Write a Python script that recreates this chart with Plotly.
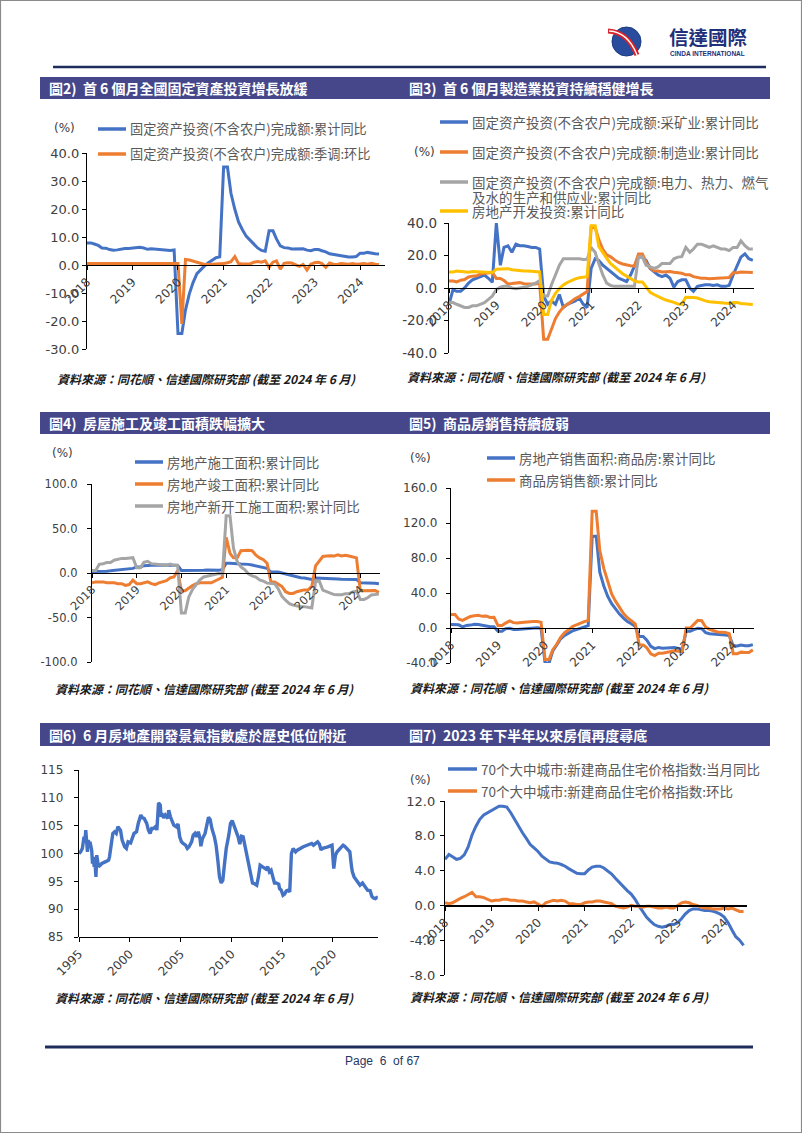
import plotly.graph_objects as go
import pandas as pd

W, H = 802, 1133
def X(px): return px / W
def Y(py): return 1 - py / H

BLUE = '#4472C4'; ORANGE = '#ED7D31'; GRAY = '#A5A5A5'; YELLOW = '#FFC000'
NAVY = '#1F2D5C'; BAR = '#45478A'; TXT = '#595959'; TICK = '#404040'
SC = 'Noto Sans CJK SC'; TC = 'Noto Sans CJK TC'; NUM = 'DejaVu Sans'

# ---------------- data ----------------
months = [d.strftime('%Y-%m-%d') for d in pd.date_range('2018-01-01', '2024-06-01', freq='MS')]
year_ticks = [f'{y}-01-01' for y in range(2018, 2025)]
year_text = [str(y) for y in range(2018, 2025)]

# Chart 2
fai_yoy = [7.9, 7.9, 7.5, 7.0, 6.1, 6.0, 5.5, 5.3, 5.4, 5.7, 5.9, 5.9,
           6.1, 6.1, 6.3, 6.1, 5.6, 5.8, 5.7, 5.5, 5.4, 5.2, 5.2, 5.4,
           -24.5, -24.5, -16.1, -10.3, -6.3, -3.1, -1.6, -0.3, 0.8, 1.8, 2.6, 2.9,
           35.0, 35.0, 25.6, 19.9, 15.4, 12.6, 10.3, 8.9, 7.3, 6.1, 5.2, 4.9,
           12.2, 12.2, 9.3, 6.8, 6.2, 6.1, 5.7, 5.8, 5.9, 5.8, 5.3, 5.1,
           5.5, 5.5, 5.1, 4.7, 4.0, 3.8, 3.4, 3.2, 3.1, 2.9, 2.9, 3.0,
           4.2, 4.2, 4.5, 4.2, 4.0, 3.9]
fai_mom_sa = [0.5, 0.5, 0.5, 0.5, 0.5, 0.5, 0.5, 0.5, 0.5, 0.5, 0.5, 0.5,
              0.5, 0.5, 0.5, 0.5, 0.5, 0.5, 0.5, 0.5, 0.5, 0.5, 0.5, 0.5,
              0.5, -21.0, 2.0, 1.8, 1.4, 1.0, 0.5, 0.2, 0.2, 0.3, 0.3, 0.3,
              0.5, 0.8, 1.2, 3.0, 0.5, 0.4, 0.3, 0.4, 1.0, 1.2, 1.0, 1.5,
              -0.8, 1.0, 1.5, -1.5, 0.6, 0.8, 0.7, 0.0, -0.5, 0.2, -1.8, 0.3,
              0.8, 1.0, 0.5, -0.8, 0.7, 0.3, 0.2, 0.5, 0.4, 0.3, 0.5, 0.3,
              0.4, 0.5, 0.3, 0.6, 0.3, 0.2]

# Chart 3
mining = [-10.0, -1.0, -2.0, -2.0, 0.0, 3.0, 5.0, 6.0, 7.0, 8.0, 6.0, 3.5,
          40.0, 14.0, 25.0, 26.0, 22.0, 27.0, 26.0, 26.0, 25.5, 25.0, 25.0, 24.0,
          -5.0, -10.0, -8.0, -10.0, -4.0, -12.0, -10.0, -9.0, -8.0, -6.0, -10.0, -12.0,
          12.0, 18.0, 17.0, 14.0, 12.0, 10.0, 8.0, 6.0, 5.0, 4.0, 8.0, 13.0,
          19.0, 19.0, 17.0, 12.0, 10.0, 8.0, 7.0, 8.0, 6.0, 0.5, 4.0, 5.0,
          5.0, 0.0, -2.0, 1.0, 1.5, 2.0, 2.0, 1.5, 2.0, 1.0, 1.0, 1.5,
          8.0, 14.0, 19.0, 21.0, 18.0, 17.0]
manufacturing = [4.3, 4.3, 3.8, 4.8, 5.2, 6.8, 7.3, 7.5, 8.7, 9.1, 9.5, 9.5,
                 5.9, 5.9, 4.6, 2.5, 2.7, 3.0, 3.3, 2.6, 2.5, 2.6, 2.5, 3.1,
                 -31.5, -31.5, -25.2, -18.8, -14.8, -11.7, -10.2, -8.1, -6.5, -5.3, -3.5, -2.2,
                 37.3, 37.3, 29.8, 23.8, 20.4, 19.2, 17.3, 15.7, 14.8, 14.2, 13.7, 13.5,
                 20.9, 20.9, 15.6, 12.2, 10.6, 10.4, 9.9, 10.0, 10.1, 9.7, 9.3, 9.1,
                 8.1, 8.1, 7.0, 6.4, 6.0, 6.0, 5.7, 5.9, 6.2, 6.2, 6.3, 6.5,
                 9.4, 9.4, 9.9, 9.7, 9.6, 9.5]
utilities = [-9.0, -9.0, -10.0, -11.0, -12.0, -12.0, -11.0, -11.0, -10.0, -9.0, -7.0, -5.0,
             -1.0, 0.5, 1.0, 1.0, 0.0, -0.5, 0.0, 0.5, 1.0, 2.0, 3.0, 4.5,
             -5.0, -5.0, 2.0, 8.0, 14.0, 18.0, 18.0, 18.0, 18.0, 18.0, 17.5, 17.6,
             25.0, 22.0, 15.0, 8.0, 3.0, 1.5, 1.0, 1.0, 1.0, 1.0, 1.0, 1.1,
             19.0, 19.0, 14.0, 13.0, 12.0, 13.0, 15.0, 15.0, 15.0, 18.0, 19.0, 19.3,
             25.0, 22.0, 24.0, 27.0, 27.0, 26.0, 25.0, 26.0, 25.0, 24.0, 24.0, 23.0,
             25.0, 25.0, 29.0, 26.0, 24.0, 24.0]
re_invest = [9.9, 9.9, 10.4, 10.3, 10.2, 9.7, 10.2, 10.1, 9.9, 9.7, 9.7, 9.5,
             11.6, 11.6, 11.8, 11.9, 11.2, 10.9, 10.6, 10.5, 10.5, 10.3, 10.2, 9.9,
             -16.3, -16.3, -7.7, -3.3, -0.3, 1.9, 3.4, 4.6, 5.6, 6.3, 6.8, 7.0,
             38.3, 38.3, 25.6, 21.6, 18.3, 15.0, 12.7, 10.9, 8.8, 7.2, 6.0, 4.4,
             3.7, 3.7, 0.7, -2.7, -4.0, -5.4, -6.4, -7.4, -8.0, -8.8, -9.8, -10.0,
             -5.7, -5.7, -5.8, -6.2, -7.2, -7.9, -8.5, -8.8, -9.1, -9.3, -9.4, -9.6,
             -9.0, -9.0, -9.5, -9.8, -10.1, -10.1]

# Chart 4
under_constr = [1.6, 1.6, 1.3, 1.8, 2.1, 2.4, 2.8, 3.3, 3.6, 4.1, 4.7, 5.2,
                6.8, 6.8, 8.2, 8.8, 8.8, 8.8, 9.0, 8.8, 8.7, 9.0, 8.7, 8.7,
                2.9, 2.9, 2.5, 2.5, 2.6, 2.6, 3.1, 3.4, 3.1, 3.2, 3.2, 3.7,
                11.0, 11.0, 11.0, 10.5, 10.1, 10.2, 9.7, 8.9, 7.9, 7.1, 6.1, 5.2,
                1.1, 1.1, 1.0, 0.0, -1.0, -2.8, -3.7, -4.5, -5.3, -5.7, -6.5, -7.2,
                -5.5, -5.6, -5.8, -6.0, -6.2, -6.6, -6.8, -7.1, -7.1, -7.3, -7.2, -7.2,
                -11.0, -11.0, -11.1, -10.8, -11.6, -12.0]
completed = [-11.0, -10.0, -10.0, -10.0, -11.0, -11.0, -11.0, -12.0, -12.0, -14.0, -13.0, -8.0,
             -12.0, -12.0, -11.0, -10.0, -12.0, -13.0, -11.0, -10.0, -8.6, -5.5, -4.5, 2.6,
             -20.0, -20.0, -17.0, -14.0, -12.0, -11.0, -11.0, -11.0, -11.0, -9.0, -7.0, -4.9,
             40.0, 22.0, 17.0, 17.0, 25.0, 25.5, 25.5, 25.0, 20.0, 17.0, 15.0, 11.0,
             -10.0, -10.0, -12.0, -15.0, -21.0, -23.0, -23.0, -21.0, -20.0, -19.0, -19.0, -15.0,
             8.0, 14.0, 18.5, 19.0, 19.5, 19.0, 20.5, 19.2, 19.8, 19.0, 18.0, 17.0,
             -20.0, -20.0, -20.5, -20.4, -19.8, -21.8]
new_starts = [2.9, 2.9, 9.7, 10.3, 11.8, 11.8, 14.4, 15.5, 16.4, 16.3, 16.8, 17.2,
              6.0, 6.0, 11.9, 13.1, 10.5, 10.1, 9.5, 8.9, 8.6, 10.0, 8.6, 8.5,
              -44.9, -44.9, -27.2, -18.4, -12.8, -7.6, -4.5, -3.6, -2.0, -1.3, -0.7, -1.2,
              64.3, 64.3, 28.2, 12.8, 6.9, 3.8, -0.9, -3.2, -4.5, -7.7, -9.1, -11.4,
              -12.2, -12.2, -17.5, -26.3, -30.6, -34.4, -36.1, -37.2, -38.0, -37.8, -38.9, -39.4,
              -9.4, -9.4, -19.2, -21.2, -22.6, -24.3, -24.5, -24.4, -23.4, -23.2, -21.2, -20.4,
              -29.7, -29.7, -27.8, -24.6, -24.2, -23.7]

# Chart 5
sales_area = [4.1, 4.1, 3.6, 1.3, 2.9, 3.3, 4.2, 4.0, 2.9, 2.2, 1.4, 1.3,
              -3.6, -3.6, -0.9, -0.3, -1.6, -1.8, -1.3, -0.6, -0.1, 0.1, 0.2, -0.1,
              -39.9, -39.9, -26.3, -19.3, -12.3, -8.4, -5.8, -3.3, -1.8, 0.0, 1.3, 2.6,
              104.9, 104.9, 63.8, 48.1, 36.3, 27.7, 21.5, 15.9, 11.3, 7.3, 4.8, 1.9,
              -9.6, -9.6, -13.8, -20.9, -23.6, -22.2, -23.1, -23.0, -22.2, -22.3, -23.3, -24.3,
              -3.6, -3.6, -1.8, -0.4, -0.9, -5.3, -6.5, -7.1, -7.5, -7.8, -8.0, -8.5,
              -20.5, -20.5, -19.4, -20.2, -20.3, -19.0]
sales_value = [15.3, 15.3, 10.4, 8.8, 11.0, 13.2, 14.1, 14.5, 13.3, 13.6, 12.1, 12.2,
               2.8, 2.8, 5.6, 8.1, 6.1, 5.6, 6.2, 6.7, 7.1, 7.3, 7.3, 6.5,
               -35.9, -35.9, -24.7, -18.6, -10.6, -5.4, -2.1, 1.6, 3.7, 5.8, 7.2, 8.7,
               133.4, 133.4, 88.5, 68.2, 52.4, 38.9, 30.7, 22.9, 16.6, 11.8, 8.0, 4.8,
               -19.3, -19.3, -22.7, -29.5, -31.5, -28.9, -28.8, -27.9, -26.3, -26.1, -26.6, -26.7,
               -0.1, -0.1, 4.1, 8.8, 8.4, 1.1, -1.5, -3.2, -4.6, -4.9, -5.2, -6.5,
               -29.3, -29.3, -27.6, -28.1, -27.9, -25.0]

# Chart 6
climate_dates = ['1995-01', '1995-03', '1995-05', '1995-06', '1995-07', '1995-08', '1995-09', '1995-11', '1995-12',
                 '1996-01', '1996-02', '1996-04', '1996-05', '1996-06', '1996-07', '1996-08', '1996-09', '1996-10', '1996-12',
                 '1997-02', '1997-04', '1997-08', '1997-12',
                 '1998-01', '1998-03', '1998-05', '1998-07', '1998-09', '1998-11',
                 '1999-02', '1999-04', '1999-07', '1999-09', '1999-11',
                 '2000-02', '2000-04', '2000-06', '2000-09', '2000-11',
                 '2001-02', '2001-04', '2001-06', '2001-09', '2001-11',
                 '2002-01', '2002-03', '2002-05', '2002-08', '2002-09', '2002-11',
                 '2003-01', '2003-02', '2003-03', '2003-05', '2003-07', '2003-10', '2003-11',
                 '2004-01', '2004-03', '2004-05', '2004-08', '2004-10', '2004-12',
                 '2005-02', '2005-04', '2005-07', '2005-09', '2005-11',
                 '2006-02', '2006-04', '2006-06', '2006-08', '2006-10', '2006-12',
                 '2007-01', '2007-03', '2007-06', '2007-08', '2007-10', '2007-12',
                 '2008-02', '2008-05', '2008-07', '2008-09', '2008-11',
                 '2009-01', '2009-03', '2009-05', '2009-07', '2009-10', '2009-12',
                 '2010-02', '2010-04', '2010-06', '2010-09', '2010-11',
                 '2011-01', '2011-03', '2011-05', '2011-07', '2011-09', '2011-12',
                 '2012-02', '2012-04', '2012-07', '2012-09', '2012-11',
                 '2013-02', '2013-04', '2013-06', '2013-08', '2013-10', '2013-12',
                 '2014-02', '2014-04', '2014-06', '2014-09', '2014-10', '2014-12',
                 '2015-02', '2015-04', '2015-06', '2015-08', '2015-10', '2015-11', '2015-12',
                 '2016-02', '2016-03', '2016-05', '2016-07', '2016-10', '2016-12',
                 '2017-02', '2017-05', '2017-07', '2017-09', '2017-12',
                 '2018-02', '2018-05', '2018-07', '2018-09', '2018-11', '2018-12',
                 '2019-03', '2019-05', '2019-07', '2019-10', '2019-12',
                 '2020-02', '2020-03', '2020-04', '2020-06', '2020-09', '2020-11',
                 '2021-01', '2021-03', '2021-05', '2021-07', '2021-09', '2021-11', '2021-12',
                 '2022-02', '2022-05', '2022-07', '2022-09', '2022-12',
                 '2023-02', '2023-04', '2023-06', '2023-09', '2023-11',
                 '2024-01', '2024-03', '2024-05', '2024-06']
climate_index = [100.0, 100.3, 100.9, 102.7, 103.0, 102.1, 104.2, 100.3, 102.4,
                 101.5, 102.1, 100.6, 98.2, 99.4, 97.6, 98.2, 95.8, 99.7, 97.6,
                 97.9, 98.2, 98.5, 98.8,
                 99.4, 101.8, 103.6, 103.9, 103.6, 104.8,
                 104.2, 102.4, 101.2, 100.9, 102.1,
                 101.9, 102.7, 103.6, 103.9, 105.4,
                 106.9, 106.4, 106.3, 105.4, 104.2,
                 103.6, 104.5, 104.5, 104.9, 104.2, 109.1,
                 108.7, 106.6, 107.2, 106.4, 106.9, 106.3, 107.8,
                 106.6, 105.7, 105.1, 104.8, 105.3, 103.0,
                 102.1, 101.8, 101.5, 100.9, 101.2,
                 102.1, 103.3, 103.6, 103.0, 103.9, 102.7,
                 101.3, 102.7, 103.6, 105.1, 106.5, 106.1,
                 104.5, 103.0, 101.5, 98.8, 95.8,
                 94.7, 95.2, 98.2, 100.9, 103.3, 105.4,
                 105.9, 105.1, 104.2, 103.0, 101.7,
                 103.1, 103.0, 101.5, 100.0, 98.5, 96.4,
                 94.7, 94.6, 94.3, 95.8, 97.9,
                 97.6, 97.3, 97.2, 97.6, 96.7, 97.0,
                 95.8, 94.7, 94.7, 94.5, 93.7, 93.4,
                 92.5, 92.7, 93.3, 93.4, 93.1, 96.1, 100.0,
                 100.9, 100.6, 100.3, 100.6, 100.9, 101.1,
                 101.2, 101.4, 101.5, 101.7, 101.8,
                 101.5, 101.9, 102.1, 101.7, 100.6, 100.9,
                 101.1, 101.1, 101.2, 101.3, 101.5,
                 97.3, 98.8, 99.7, 100.3, 100.9, 101.3,
                 101.5, 101.3, 101.0, 100.7, 100.3, 97.6, 96.7,
                 95.8, 95.2, 94.6, 94.3, 94.7,
                 94.3, 93.7, 93.4, 93.3, 92.3,
                 92.0, 91.9, 92.1, 92.1]
climate_ticks = [f'{y}-01-01' for y in range(1995, 2021, 5)]
climate_text = [str(y) for y in range(1995, 2021, 5)]

# Chart 7
price_yoy = [5.3, 5.85, 5.6, 5.3, 5.4, 5.8, 6.7, 8.1, 9.1, 9.9, 10.4, 10.65,
             11.0, 11.2, 11.4, 11.4, 11.3, 10.65, 9.9, 9.0, 8.35, 7.7, 7.0, 6.6,
             6.2, 5.65, 5.3, 5.0, 4.9, 4.85, 4.7, 4.5, 4.2, 4.0, 3.7, 3.65,
             3.65, 4.1, 4.4, 4.5, 4.5, 4.3, 4.0, 3.6, 3.1, 2.6, 2.1, 1.7,
             1.3, 0.7, 0.0, -0.65, -1.35, -1.8, -2.2, -2.4, -2.5, -2.4, -2.2, -2.2,
             -2.0, -1.5, -1.0, -0.6, -0.4, -0.4, -0.5, -0.6, -0.6, -0.65, -0.8, -1.0,
             -1.35, -2.0, -2.8, -3.6, -4.0, -4.6]
price_mom = [0.3, 0.2, 0.3, 0.6, 0.8, 1.0, 1.2, 1.5, 1.0, 1.0, 0.9, 0.7,
             0.5, 0.6, 0.6, 0.7, 0.7, 0.6, 0.6, 0.5, 0.5, 0.4, 0.3, 0.4,
             0.1, -0.1, 0.3, 0.5, 0.6, 0.5, 0.6, 0.5, 0.2, 0.2, 0.1, 0.1,
             0.3, 0.4, 0.4, 0.5, 0.5, 0.4, 0.3, 0.2, -0.1, -0.2, -0.3, -0.2,
             0.0, -0.1, -0.1, -0.2, -0.1, -0.1, -0.2, -0.3, -0.3, -0.2, -0.3, -0.3,
             0.0, 0.3, 0.4, 0.3, 0.1, 0.0, -0.2, -0.3, -0.3, -0.4, -0.4, -0.4,
             -0.3, -0.4, -0.3, -0.5, -0.7, -0.7]

for arr in [fai_yoy, fai_mom_sa, mining, manufacturing, utilities, re_invest, under_constr,
            completed, new_starts, sales_area, sales_value, price_yoy, price_mom]:
    assert len(arr) == len(months), len(arr)
assert len(climate_dates) == len(climate_index)

# ---------------- figure ----------------
fig = go.Figure()

def ref(i, a):
    return a if i == 1 else f'{a}{i}'

def add_line(i, x, y, color, name, width=3):
    fig.add_trace(go.Scatter(x=x, y=y, mode='lines', name=name,
                             line=dict(color=color, width=width),
                             xaxis=ref(i, 'x'), yaxis=ref(i, 'y'),
                             showlegend=False, hoverinfo='skip'))

def setup_axes(i, xpx, ypx, xrange, yrange, ytv, ytt, xtv, xtt, yfs, xfs, standoff, zero_axis=True):
    d0, d1 = Y(ypx[1]), Y(ypx[0])
    if zero_axis:
        pos = d0 + (0 - yrange[0]) / (yrange[1] - yrange[0]) * (d1 - d0)
    else:
        pos = d0
    xa = dict(domain=[X(xpx[0]), X(xpx[1])], range=xrange, type='date', anchor='free', position=pos,
              showline=True, linecolor='black', linewidth=1.2, ticks='outside', ticklen=4,
              tickcolor='black', tickwidth=1, tickvals=xtv, ticktext=xtt, tickangle=-45,
              tickfont=dict(family=NUM, size=xfs, color=TICK), showgrid=False, zeroline=False,
              fixedrange=True, automargin=False)
    ya = dict(domain=[d0, d1], range=yrange, anchor=ref(i, 'x'), showline=True, linecolor='black',
              linewidth=1.2, ticks='outside', ticklen=4, tickcolor='black', tickwidth=1,
              tickvals=ytv, ticktext=ytt, tickfont=dict(family=NUM, size=yfs, color=TICK),
              showgrid=False, zeroline=False, fixedrange=True, ticklabelstandoff=standoff,
              automargin=False)
    fig.update_layout(**{ref(i, 'xaxis'): xa, ref(i, 'yaxis'): ya})

def fmt(vals):
    return [f'{v:.1f}' for v in vals]

# Chart 2
n2 = ['固定资产投资(不含农户)完成额:累计同比', '固定资产投资(不含农户)完成额:季调:环比']
add_line(1, months, fai_yoy, BLUE, n2[0])
add_line(1, months, fai_mom_sa, ORANGE, n2[1])
t = list(range(-30, 41, 10))
setup_axes(1, (87, 385), (153, 349), ['2018-01-01', '2024-07-19'], [-30, 40], t, fmt(t),
           year_ticks, year_text, 13, 12, 0)

# Chart 3
n3 = ['固定资产投资(不含农户)完成额:采矿业:累计同比', '固定资产投资(不含农户)完成额:制造业:累计同比',
      '固定资产投资(不含农户)完成额:电力、热力、燃气及水的生产和供应业:累计同比', '房地产开发投资:累计同比']
add_line(2, months, mining, BLUE, n3[0])
add_line(2, months, manufacturing, ORANGE, n3[1])
add_line(2, months, utilities, GRAY, n3[2])
add_line(2, months, re_invest, YELLOW, n3[3])
t = list(range(-40, 41, 20))
setup_axes(2, (449, 754), (223, 353), ['2018-01-01', '2024-06-10'], [-40, 40], t, fmt(t),
           year_ticks, year_text, 13.5, 12, 4)

# Chart 4
n4 = ['房地产施工面积:累计同比', '房地产竣工面积:累计同比', '房地产新开工施工面积:累计同比']
add_line(3, months, under_constr, BLUE, n4[0])
add_line(3, months, completed, ORANGE, n4[1])
add_line(3, months, new_starts, GRAY, n4[2])
t = list(range(-100, 101, 50))
setup_axes(3, (92, 380), (484, 662), ['2018-01-01', '2024-06-10'], [-100, 100], t, fmt(t),
           year_ticks, year_text, 11.5, 11.5, 7)

# Chart 5
n5 = ['房地产销售面积:商品房:累计同比', '商品房销售额:累计同比']
add_line(4, months, sales_area, BLUE, n5[0])
add_line(4, months, sales_value, ORANGE, n5[1])
t = list(range(-40, 161, 40))
setup_axes(4, (451, 754), (488, 663), ['2018-01-01', '2024-06-10'], [-40, 160], t, fmt(t),
           year_ticks, year_text, 12, 12, 6)

# Chart 6
add_line(5, [d + '-01' for d in climate_dates], climate_index, BLUE, '国房景气指数', width=3.4)
t = list(range(85, 116, 5))
setup_axes(5, (79, 378), (770, 937), ['1995-01-01', '2024-06-10'], [85, 115], t, [str(v) for v in t],
           climate_ticks, climate_text, 12, 12, 8, zero_axis=False)

# Chart 7
n7 = ['70个大中城市:新建商品住宅价格指数:当月同比', '70个大中城市:新建商品住宅价格指数:环比']
add_line(6, months, price_yoy, BLUE, n7[0])
add_line(6, months, price_mom, ORANGE, n7[1])
t = list(range(-8, 13, 4))
setup_axes(6, (445, 747), (801, 975), ['2018-01-01', '2024-06-28'], [-8, 12], t, fmt(t),
           year_ticks, year_text, 13, 12, 2)

# ---------------- decorations ----------------
shapes = []
annotations = []

def hline(x0, x1, y, color, width):
    shapes.append(dict(type='line', xref='paper', yref='paper', x0=X(x0), x1=X(x1), y0=Y(y), y1=Y(y),
                       line=dict(color=color, width=width)))

def rect(x0, y0, x1, y1, fill, line_color=None, lw=0):
    shapes.append(dict(type='rect', xref='paper', yref='paper', x0=X(x0), x1=X(x1), y0=Y(y1), y1=Y(y0),
                       fillcolor=fill, line=dict(color=line_color or fill, width=lw), layer='below'))

def text(x, y, s, size, color=TXT, family=SC, anchor='left'):
    annotations.append(dict(xref='paper', yref='paper', x=X(x), y=Y(y), text=s, showarrow=False,
                            xanchor=anchor, yanchor='middle', font=dict(family=family, size=size, color=color)))

# page border
shapes.append(dict(type='rect', xref='paper', yref='paper', x0=0.0006, x1=0.9994, y0=0.0004, y1=0.9996,
                   line=dict(color='#8a8a8a', width=1.2), fillcolor='rgba(0,0,0,0)'))

# logo
shapes.append(dict(type='circle', xref='paper', yref='paper', x0=X(612), x1=X(641), y0=Y(56), y1=Y(27),
                   fillcolor='#2a4c9c', line=dict(color='#1c3a80', width=1)))
def path(pts):
    s = f'M {X(pts[0][0])},{Y(pts[0][1])}'
    s += ' Q ' + f'{X(pts[1][0])},{Y(pts[1][1])} {X(pts[2][0])},{Y(pts[2][1])}'
    return s
shapes.append(dict(type='path', xref='paper', yref='paper', path=path([(608, 31), (628, 32), (637, 55)]),
                   line=dict(color='#d9232a', width=5)))
shapes.append(dict(type='path', xref='paper', yref='paper', path=path([(609, 31), (628, 32), (637, 55)]),
                   line=dict(color='white', width=1.3)))
text(667, 37, '<b>信達國際</b>', 19.5, color='#1E3079', family=TC)
text(668, 54, '<b>CINDA INTERNATIONAL</b>', 6.5, color='#1E3079', family='Liberation Sans')

# header / footer lines
hline(53, 766, 67, NAVY, 2.6)
hline(45, 753, 1047, NAVY, 3)
text(382, 1061, 'Page  6  of 67', 12, color='#1F3864', family='Liberation Sans Narrow, Liberation Sans', anchor='center')

# title bars
for (y0, y1) in [(77, 99), (412, 434), (723, 746)]:
    rect(40, y0, 770, y1, BAR)
titles = [(47, 88, '圖2)  首 6 個月全國固定資產投資增長放緩'), (407, 88, '圖3)  首 6 個月製造業投資持續穩健增長'),
          (47, 423, '圖4)  房屋施工及竣工面積跌幅擴大'), (407, 423, '圖5)  商品房銷售持續疲弱'),
          (47, 735, '圖6)  6 月房地產開發景氣指數處於歷史低位附近'), (407, 735, '圖7)  2023 年下半年以來房價再度尋底')]
for x, y, s in titles:
    text(x, y, f'<b>{s}</b>', 14, color='white', family=TC)

# sources
src = '<b><i>資料來源：同花順、信達國際研究部 (截至 2024 年 6 月)</i></b>'
for x, y in [(55, 378), (405, 377), (53, 688), (408, 687), (53, 997), (408, 996)]:
    text(x, y, src, 12, color='#1a1a1a', family=TC)

# (%) labels
for x, y in [(64, 128), (424, 152), (62, 453), (420, 458), (420, 780)]:
    text(x, y, '(%)', 12, color=TICK, family=NUM, anchor='center')

# manual legends
def legend(x0, x1, y, color, s, size=13.5):
    hline(x0, x1, y, color, 3.5)
    text(x1 + 2, y, s, size)

legend(98, 126, 129, BLUE, n2[0], 13.2)
legend(98, 126, 154, ORANGE, n2[1], 13.2)

legend(440, 468, 122, BLUE, n3[0])
legend(440, 468, 152, ORANGE, n3[1])
legend(440, 468, 182, GRAY, '固定资产投资(不含农户)完成额:电力、热力、燃气')
text(470, 197, '及水的生产和供应业:累计同比', 13.5)
legend(440, 468, 211, YELLOW, n3[3])

legend(135, 163, 462, BLUE, n4[0])
legend(135, 163, 484, ORANGE, n4[1])
legend(135, 163, 506, GRAY, n4[2])

legend(487, 515, 458, BLUE, n5[0])
legend(487, 515, 480, ORANGE, n5[1])

legend(448, 477, 769, BLUE, n7[0])
legend(448, 477, 791, ORANGE, n7[1])

fig.update_layout(width=W, height=H, margin=dict(l=0, r=0, t=0, b=0, pad=0), paper_bgcolor='white',
                  plot_bgcolor='rgba(0,0,0,0)', shapes=shapes, annotations=annotations,
                  font=dict(family=SC, color=TXT))

fig.write_html('out.html', config={'displayModeBar': False, 'staticPlot': True},
               post_script="document.body.style.margin='0';document.body.style.padding='0';"
                           "document.documentElement.style.margin='0';document.body.style.overflow='hidden';")
